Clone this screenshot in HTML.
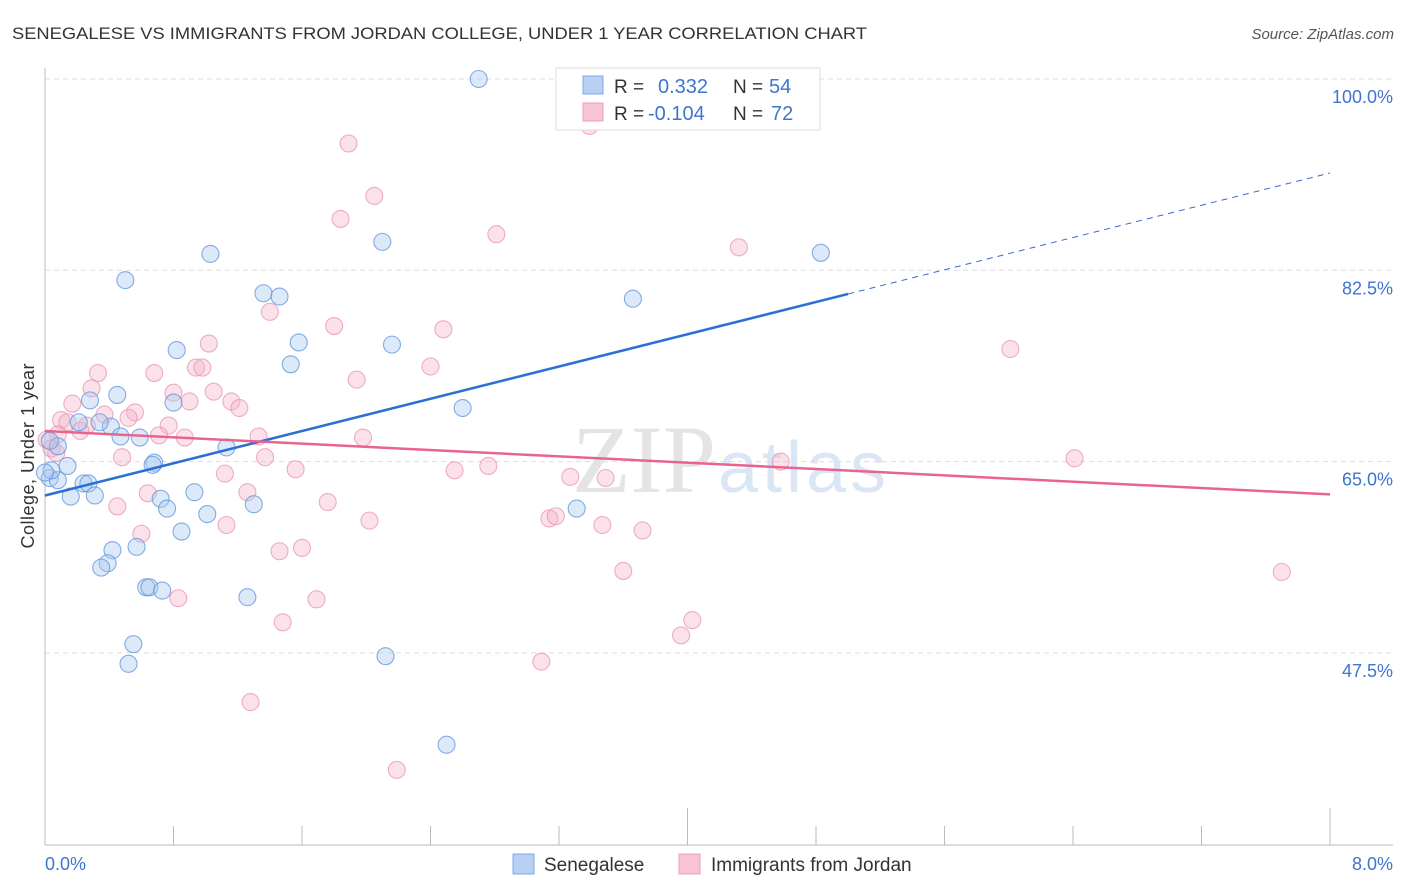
<!DOCTYPE html>
<html><head><meta charset="utf-8">
<style>
body{margin:0;background:#fff;font-family:"Liberation Sans",sans-serif;}
#wrap{position:relative;width:1406px;height:892px;overflow:hidden;}
</style></head>
<body><div id="wrap">
<svg id="svg" width="1406" height="892" xmlns="http://www.w3.org/2000/svg">
<text x="12" y="39" font-size="17" fill="#333" textLength="855" lengthAdjust="spacingAndGlyphs">SENEGALESE VS IMMIGRANTS FROM JORDAN COLLEGE, UNDER 1 YEAR CORRELATION CHART</text>
<text x="1394" y="39" font-size="15" fill="#555" font-style="italic" text-anchor="end">Source: ZipAtlas.com</text>
<text x="716" y="492" font-size="96" fill="#e4e4e4" text-anchor="end" font-family="Liberation Serif,serif">ZIP</text>
<text x="718" y="492" font-size="72" fill="#dbe6f5" textLength="168">atlas</text>
<text transform="translate(34,456) rotate(-90)" font-size="18" fill="#333" text-anchor="middle" textLength="185">College, Under 1 year</text>
<g id="grid"></g><g id="axes"></g><g id="pts"></g><g id="lines"></g>
<g>
<rect x="556" y="68" width="264" height="62" fill="#fff" stroke="#ddd"/>
<rect x="583" y="76" width="20" height="18" fill="#b7d0f3" stroke="#7fa8e0"/>
<rect x="583" y="103" width="20" height="18" fill="#f8c3d3" stroke="#eca0b8"/>
<text x="614" y="93" font-size="19" fill="#333">R = </text><text x="658" y="93" font-size="20" fill="#3f74d1">0.332</text>
<text x="733" y="93" font-size="19" fill="#333">N = </text><text x="769" y="93" font-size="20" fill="#3f74d1">54</text>
<text x="614" y="120" font-size="19" fill="#333">R = </text><text x="648" y="120" font-size="20" fill="#3f74d1">-0.104</text>
<text x="733" y="120" font-size="19" fill="#333">N = </text><text x="771" y="120" font-size="20" fill="#3f74d1">72</text>
</g>
<g>
<rect x="513" y="854" width="21" height="20" fill="#b7d0f3" stroke="#7fa8e0"/>
<text x="544" y="871" font-size="19" fill="#333">Senegalese</text>
<rect x="679" y="854" width="21" height="20" fill="#f8c3d3" stroke="#eca0b8"/>
<text x="711" y="871" font-size="19" fill="#333">Immigrants from Jordan</text>
</g>
</svg></div>
<script>
const yTicks=[100,82.5,65,47.5];
const yTickLabels=["100.0%","82.5%","65.0%","47.5%"];
const xLabels=["0.0%","8.0%"];
const blueX=[2.70,1.03,2.10,4.83,0.50,1.36,1.46,3.66,1.58,2.16,0.82,1.53,0.45,0.80,2.60,0.28,0.21,0.41,0.47,0.59,1.13,0.08,0.03,0.14,0.68,0.67,0.03,0.08,0.24,0.27,0.16,0.31,0.72,0.76,0.93,1.30,1.01,3.31,0.85,0.42,0.57,0.39,0.35,0.63,0.65,0.73,1.26,0.55,0.52,2.12,2.50,0.04,0.00,0.34];
const blueY=[100.0,84.0,85.1,84.1,81.6,80.4,80.1,79.9,75.9,75.7,75.2,73.9,71.1,70.4,69.9,70.6,68.6,68.2,67.3,67.2,66.3,66.4,66.9,64.6,64.9,64.7,63.5,63.3,63.0,63.0,61.8,61.9,61.6,60.7,62.2,61.1,60.2,60.7,58.6,56.9,57.2,55.7,55.3,53.5,53.5,53.2,52.6,48.3,46.5,47.2,39.1,64.2,64.0,68.6];
const pinkX=[3.39,1.89,2.05,1.84,2.81,4.32,1.40,1.80,2.48,1.02,6.01,0.33,0.68,0.94,0.98,2.40,1.94,0.29,0.80,1.05,0.90,1.16,0.17,1.21,0.37,0.56,0.10,0.14,0.26,0.77,0.52,0.08,0.22,0.71,0.87,1.33,1.98,6.41,0.48,1.37,0.01,0.04,0.07,1.56,2.76,2.55,1.12,3.27,3.49,4.58,0.64,1.26,1.76,0.45,1.13,2.02,3.14,3.18,3.47,3.72,0.60,1.46,1.60,3.60,7.70,0.83,1.69,1.48,4.03,3.96,3.09,1.28,2.19];
const pinkY=[95.7,94.1,89.3,87.2,85.8,84.6,78.7,77.4,77.1,75.8,75.3,73.1,73.1,73.6,73.6,73.7,72.5,71.7,71.3,71.4,70.5,70.5,70.3,69.9,69.3,69.5,68.8,68.6,68.3,68.3,69.0,67.5,67.8,67.4,67.2,67.3,67.2,65.3,65.4,65.4,67.0,66.2,65.8,64.3,64.6,64.2,63.9,63.6,63.5,65.0,62.1,62.2,61.3,60.9,59.2,59.6,59.8,60.0,59.2,58.7,58.4,56.8,57.1,55.0,54.9,52.5,52.4,50.3,50.5,49.1,46.7,43.0,36.8];
const blueTrend=[61.9,91.4];
const blueSolidEnd=5.0;
const pinkTrend=[67.8,62.0];
const NS="http://www.w3.org/2000/svg";
const X=v=>45+v*(1285/8);
const Y=v=>79+(100-v)*(191.3/17.5);
function mk(t,a,p){const e=document.createElementNS(NS,t);for(const k in a)e.setAttribute(k,a[k]);document.getElementById(p).appendChild(e);return e;}
yTicks.forEach((t,i)=>{
 const l=mk('line',{x1:45,x2:1393,y1:Y(t),y2:Y(t),stroke:'#ddd','stroke-dasharray':'5,4'},'grid');
 
 
 const tx=mk('text',{x:1393,y:Y(t)+24,'font-size':18,fill:'#3f74d1','text-anchor':'end'},'grid');
 tx.textContent=yTickLabels[i];
 
 
});
const ax=mk('line',{x1:45,x2:45,y1:68,y2:845,stroke:'#bbb'},'axes');


const bx=mk('line',{x1:45,x2:1393,y1:845,y2:845,stroke:'#bbb'},'axes');


for(let i=1;i<=10;i++){
 const t=mk('line',{x1:X(i*0.8),x2:X(i*0.8),y1:(i%5==0)?808:826,y2:845,stroke:'#bbb'},'axes');
 
 
}
const xl0=mk('text',{x:45,y:870,'font-size':18,fill:'#3f74d1'},'axes');xl0.textContent=xLabels[0];


const xl1=mk('text',{x:1393,y:870,'font-size':18,fill:'#3f74d1','text-anchor':'end'},'axes');xl1.textContent=xLabels[1];


function pts(xs,ys,fill,stroke,name){xs.forEach((x,i)=>{
 const c=mk('circle',{cx:X(x),cy:Y(ys[i]),r:8.5,fill:fill,'fill-opacity':0.4,stroke:stroke,'stroke-opacity':0.75,'stroke-width':1.1},'pts');
 
 
});}
pts(pinkX,pinkY,'#f5b3c8','#e994b0','point-jordan');
pts(blueX,blueY,'#a8c7f0','#5e93dc','point-senegalese');
const by=x=>blueTrend[0]+(blueTrend[1]-blueTrend[0])*x/8;
const b1=mk('line',{x1:X(0),y1:Y(by(0)),x2:X(blueSolidEnd),y2:Y(by(blueSolidEnd)),stroke:'#2a6fd6','stroke-width':2.5},'lines');


const b2=mk('line',{x1:X(blueSolidEnd),y1:Y(by(blueSolidEnd)),x2:X(8),y2:Y(by(8)),stroke:'#2a6fd6','stroke-width':1,'stroke-dasharray':'6,5'},'lines');


const p1=mk('line',{x1:X(0),y1:Y(pinkTrend[0]),x2:X(8),y2:Y(pinkTrend[1]),stroke:'#e8648f','stroke-width':2.5},'lines');


</script>
</body></html>
